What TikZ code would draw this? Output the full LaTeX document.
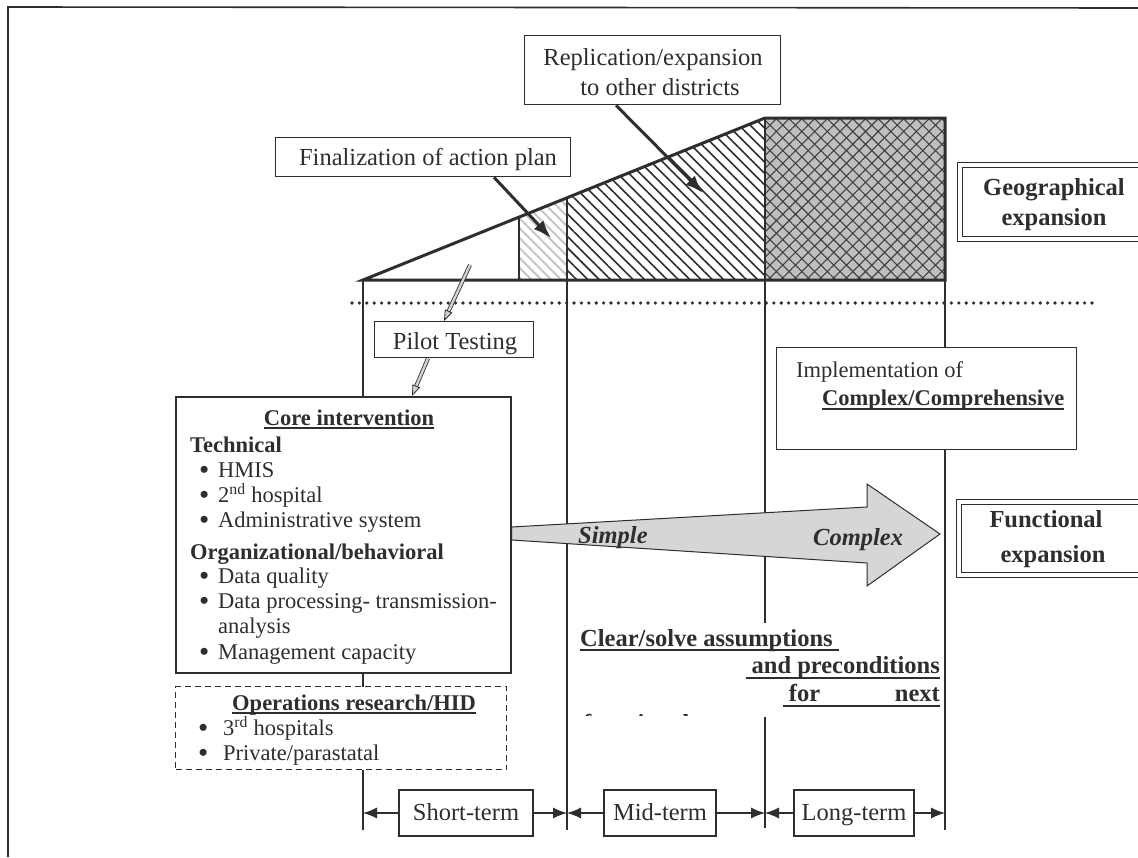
\documentclass[tikz,border=0pt]{standalone}
\usepackage{fontspec}
\setmainfont{Liberation Serif}
\usetikzlibrary{arrows.meta,patterns.meta}
\definecolor{ink}{gray}{0.18}
\newlength\ulw
\newcommand\myul[2][-4.5pt]{\settowidth\ulw{#2}\rlap{\rule[#1]{\ulw}{1.6pt}}#2}
\newcommand\fsA{\fontsize{24.5}{29}\selectfont}
\newcommand\fsB{\fontsize{22.5}{25}\selectfont}
\newcommand\itm[2][19pt]{\makebox[#1][l]{\raisebox{-2.3pt}[0pt][0pt]{\scalebox{1.3}{•}}}#2}
\begin{document}
\begin{tikzpicture}[x=1pt,y=-1pt,
  every node/.style={inner sep=0pt, text=ink},
  box/.style={draw=ink, line width=1.3pt, fill=white},
  dbox/.style={draw=ink, line width=1.4pt, double=white, double distance=3.2pt},
  ta/.style={font=\fsA, anchor=base},
  tb/.style={font=\fsB, anchor=base west},
  thin/.style={draw=ink, line width=1.3pt},
  blk/.style={draw=ink, line width=3pt, -{Latex[length=18pt,width=13pt]}},
  hollow/.style={draw=ink, line width=0.8pt, double=gray!35, double distance=2.4pt, -{Triangle[length=11pt,width=8pt,fill=gray!35]}},
  tl/.style={draw=ink, line width=1.2pt, -{Latex[length=14pt,width=11pt]}},
  termbox/.style={box, font=\fsA, minimum height=46pt, text height=19pt, text depth=4pt}]
\clip (0,0) rectangle (1138,857);
\fill[white] (0,0) rectangle (1138,857);
% frame
\draw[ink, line width=1.6pt] (8,857) -- (8,7) -- (1138,8);

% geographical expansion figure
\fill[gray!50] (765,118) rectangle (945,280);
\fill[pattern={Lines[angle=45,distance=9pt,line width=1.1pt]}, pattern color=black!75] (765,118) rectangle (945,280);
\fill[pattern={Lines[angle=-45,distance=9pt,line width=1.1pt]}, pattern color=black!75] (765,118) rectangle (945,280);
\fill[pattern={Lines[angle=-45,distance=8pt,line width=1.6pt]}, pattern color=ink] (567,197.8) -- (765,118) -- (765,280) -- (567,280) -- cycle;
\fill[pattern={Lines[angle=-45,distance=7pt,line width=2pt]}, pattern color=gray!45] (519,217.1) -- (567,197.8) -- (567,280) -- (519,280) -- cycle;
\draw[ink, line width=3pt, line join=miter] (363,280) -- (765,118) -- (945,118) -- (945,280) -- cycle;
\draw[ink, line width=2.6pt] (519,217.1) -- (519,280) (567,197.8) -- (567,280) (765,118) -- (765,280);

% dotted separator
\draw[ink, line width=3.6pt, line cap=round, dash pattern=on 0pt off 7.4pt] (352,303) -- (1095,303);

% time lines
\draw[thin] (363,280) -- (363,830) (567,280) -- (567,830) (765,280) -- (765,828) (945,280) -- (945,830);
\fill[white] (575,623) rectangle (938,717);

% boxes
\node[box, anchor=north west, minimum width=300pt, minimum height=102pt] (impl) at (776,347) {};
\node[box, line width=1.5pt, anchor=north west, minimum width=335pt, minimum height=276pt] (core) at (175,396) {};
\node[draw=ink, fill=white, line width=1.3pt, dash pattern=on 6pt off 4pt, anchor=north west, minimum width=331pt, minimum height=83pt] (ops) at (175,686) {};
\node[box, anchor=north west, minimum width=159pt, minimum height=36pt] (pilot) at (374,321) {};
\node[box, anchor=north west, minimum width=295pt, minimum height=39pt] (fin) at (275,137) {};
\node[box, anchor=north west, minimum width=256pt, minimum height=69pt] (rep) at (524,35) {};
\draw[dbox] (960,165) rectangle (1160,239);
\draw[dbox] (959,502) rectangle (1160,575);

% big arrow
\filldraw[fill=gray!32, draw=ink, line width=1pt, line join=miter] (core.east |- 0,527) -- (867,507) -- (867,484) -- (940,534) -- (867,586) -- (867,563) -- (core.east |- 0,540) -- cycle;
\node[font=\fsA\bfseries\itshape, anchor=base west] (simple) at (578,543) {Simple};
\node[font=\fsA\bfseries\itshape, anchor=base west] (complex) at (813,545) {Complex};

% top texts
\node[ta] (rep1) at (653,65) {Replication/expansion};
\node[ta] (rep2) at (660,95) {to other districts};
\node[ta] (fint) at (428,165) {Finalization of action plan};
\node[ta] (pilt) at (455,349) {Pilot Testing};
\node[ta, font=\fsA\bfseries] (geo1) at (1054,195) {Geographical};
\node[ta, font=\fsA\bfseries] (geo2) at (1054,225) {expansion};
\node[ta, font=\fsA\bfseries] (fun1) at (1046,527) {Functional};
\node[ta, font=\fsA\bfseries] (fun2) at (1053,562) {expansion};

% implementation box text
\node[tb] (imp1) at (796,377) {Implementation of};
\node[tb, font=\fsB\bfseries] (imp2) at (822,405) {\myul{Complex/Comprehensive}};

% core box text
\node[font=\fsB\bfseries, anchor=base] (c0) at (349,425) {\myul[-4pt]{Core intervention}};
\node[tb, font=\fsB\bfseries] (c1) at (190,452) {Technical};
\node[tb] (c2) at (199,477) {\itm{HMIS}};
\node[tb] (c3) at (199,502) {\itm{2\textsuperscript{nd} hospital}};
\node[tb] (c4) at (199,527) {\itm{Administrative system}};
\node[tb, font=\fsB\bfseries] (c5) at (190,559) {Organizational/behavioral};
\node[tb] (c6) at (199,583) {\itm{Data quality}};
\node[tb] (c7) at (199,608) {\itm{Data processing- transmission-}};
\node[tb] (c8) at (218,633) {analysis};
\node[tb] (c9) at (199,659) {\itm{Management capacity}};

% operations research text
\node[font=\fsB\bfseries, anchor=base] (o0) at (354,710) {\myul[-4pt]{Operations research/HID}};
\node[tb] (o1) at (198,735) {\itm[25pt]{3\textsuperscript{rd} hospitals}};
\node[tb] (o2) at (198,760) {\itm[25pt]{Private/parastatal}};

% clear/solve text
\node[font=\fsA\bfseries, anchor=base west] (cl1) at (580,646) {\myul[-5pt]{Clear/solve assumptions\ }};
\node[font=\fsA\bfseries, anchor=base east] (cl2) at (940,673) {\myul[-6pt]{\ and preconditions}};
\node[font=\fsA\bfseries, anchor=base east] (cl3) at (940,701) {\myul[-6pt]{\makebox[157pt][s]{\ for\hfill next}}};
\begin{scope}
\clip (575,700) rectangle (760,715);
\node[font=\fsA\bfseries, anchor=base west] (cl4) at (583,731) {functional step};
\end{scope}

% arrows to regions
\coordinate (repEnd) at (703,193);
\coordinate (finEnd) at (551,238);
\coordinate (pilStart) at (470,265);
\draw[blk] ([xshift=92pt]rep.south west) -- (repEnd);
\draw[blk] ([xshift=219pt]fin.south west) -- (finEnd);
\draw[hollow] (pilStart) -- ([xshift=70pt]pilot.north west);
\draw[hollow] ([xshift=54pt]pilot.south west) -- ([xshift=237pt]core.north west);

% timeline
\node[termbox, minimum width=134pt] (st) at (466,813) {Short-term};
\node[termbox, minimum width=112pt] (mt) at (660,813) {Mid-term};
\node[termbox, minimum width=120pt] (lt) at (854,813) {Long-term};
\coordinate (L1) at (363,813);
\coordinate (L2) at (567,813);
\coordinate (L3) at (765,813);
\coordinate (L4) at (945,813);
\draw[tl] (st.west) -- (L1);
\draw[tl] (st.east) -- (L2);
\draw[tl] (mt.west) -- (L2);
\draw[tl] (mt.east) -- (L3);
\draw[tl] (lt.west) -- (L3);
\draw[tl] (lt.east) -- (L4);
\end{tikzpicture}
\end{document}
